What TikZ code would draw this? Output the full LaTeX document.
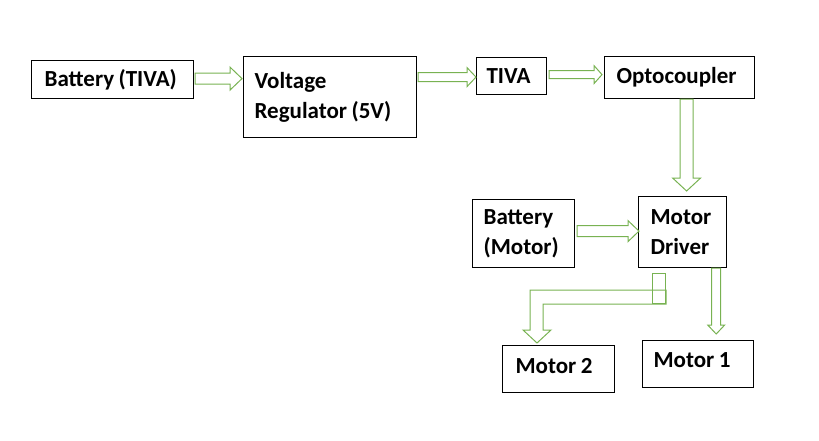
\documentclass[tikz,border=0pt]{standalone}
\usepackage{fontspec}
\setmainfont{Carlito}
\usetikzlibrary{calc}
\definecolor{arrowgreen}{RGB}{120,178,82}

\tikzset{
  block/.style={draw, line width=1.2pt, anchor=north west, align=left,
    inner xsep=11pt, inner ysep=0pt, font=\bfseries\fontsize{23}{30}\selectfont,
    execute at begin node={\spaceskip=4.5pt\relax}},
  blockarrow/.style={draw=arrowgreen, line width=1pt}
}

% hollow block arrows: from, to, shaft half width, head half width, head length
\newcommand{\rblock}[5]{%
  \draw[blockarrow] let \p1=(#1), \p2=(#2) in
    (\x1,\y1+#3pt) -- (\x2-#5pt,\y1+#3pt) -- (\x2-#5pt,\y1+#4pt) -- (\x2,\y1)
    -- (\x2-#5pt,\y1-#4pt) -- (\x2-#5pt,\y1-#3pt) -- (\x1,\y1-#3pt) -- cycle;}
\newcommand{\dblock}[5]{%
  \draw[blockarrow] let \p1=(#1), \p2=(#2) in
    (\x1-#3pt,\y1) -- (\x1-#3pt,\y2+#5pt) -- (\x1-#4pt,\y2+#5pt) -- (\x1,\y2)
    -- (\x1+#4pt,\y2+#5pt) -- (\x1+#3pt,\y2+#5pt) -- (\x1+#3pt,\y1) -- cycle;}

\begin{document}
\begin{tikzpicture}[x=1pt,y=-1pt]
  \useasboundingbox (0,0) rectangle (819,441);

  \node[block, inner xsep=13pt, text width=136, minimum height=38] (btiva) at (31,60) {Battery (TIVA)};
  \node[block, text width=151, minimum height=81] (vreg) at (243,56) {Voltage\\Regulator (5V)};
  \node[block, inner xsep=10pt, text width=50, minimum height=37] (tiva) at (476,57) {TIVA};
  \node[block, inner xsep=12pt, text width=126, minimum height=42] (opto) at (604,56) {Optocoupler};
  \node[block, text width=80, minimum height=68] (bmot) at (472,199) {Battery\\(Motor)};
  \node[block, inner xsep=12pt, text width=64, minimum height=71] (mdrv) at (638,196) {Motor\\Driver};
  \node[block, inner xsep=13pt, text width=86, minimum height=47, text depth=7pt] (mot2) at (502,345) {Motor 2};
  \node[block, text width=89, minimum height=47, text depth=8pt] (mot1) at (642,340) {Motor 1};

  % arrows
  \rblock{$(btiva.east)+(1,-1)$}{$(vreg.west)+(-1,0)$}{5.5}{11.5}{12}
  \rblock{$(vreg.east |- tiva.west)+(1,1)$}{tiva.west}{4.5}{9.5}{9}
  \rblock{$(tiva.east)+(2,-1.5)$}{$(opto.west)+(-2,0)$}{4}{9}{8}
  \dblock{$(opto.south)+(7,0)$}{$(mdrv.north)+(0,-5)$}{6.5}{14}{13}
  \rblock{$(bmot.east)+(2,-2.5)$}{$(mdrv.west)+(1,0)$}{5.5}{10.5}{11}
  \dblock{$(mdrv.south east)+(-11,0)$}{$(mot1.north)+(0,-6)$}{4.5}{8.5}{9}

  \coordinate (elbowtip) at ($(mot2.north west)+(35,-2)$);
  \draw[blockarrow] let \p1=(mdrv.south west), \p2=(elbowtip) in
    (\x1+28pt,\y1-22pt) -- (\x2-7pt,\y1-22pt) -- (\x2-7pt,\y2+13pt)
    -- (\x2-14pt,\y2+13pt) -- (\x2,\y2) -- (\x2+14pt,\y2+13pt)
    -- (\x2+6pt,\y2+13pt) -- (\x2+6pt,\y1-36pt) -- (\x1+28pt,\y1-36pt) -- cycle;
  \draw[blockarrow] ($(mdrv.south west)+(14,5)$) rectangle ($(mdrv.south west)+(27,35)$);
\end{tikzpicture}
\end{document}
